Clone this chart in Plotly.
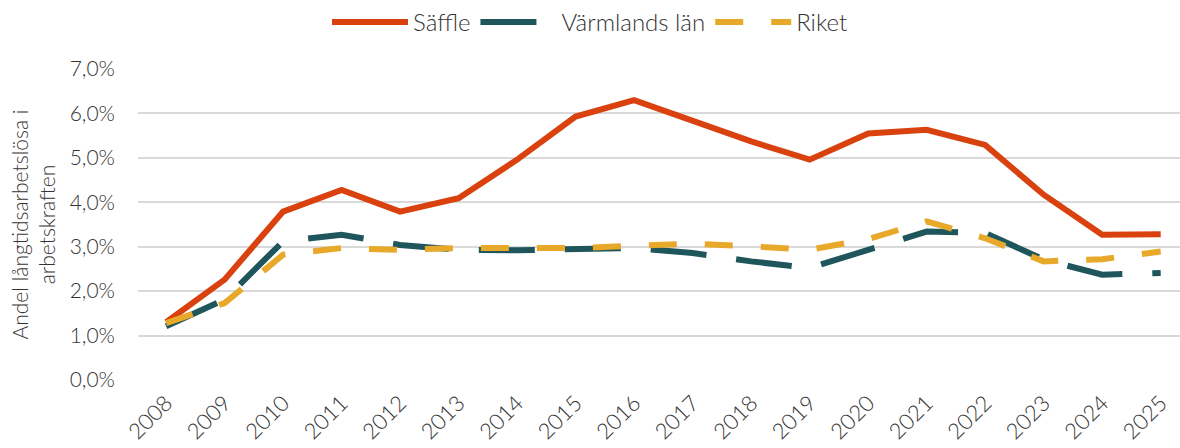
import plotly.graph_objects as go

years = [str(y) for y in range(2008, 2026)]

saffle = [1.30, 2.26, 3.79, 4.28, 3.79, 4.09, 4.96, 5.93, 6.30, 5.82,
          5.37, 4.96, 5.55, 5.63, 5.29, 4.17, 3.27, 3.28]
varmland = [1.21, 1.81, 3.12, 3.27, 3.04, 2.93, 2.92, 2.93, 2.97, 2.86,
            2.67, 2.52, 2.93, 3.34, 3.31, 2.71, 2.37, 2.41]
riket = [1.28, 1.73, 2.82, 2.97, 2.93, 2.97, 2.97, 2.97, 3.02, 3.07,
         3.01, 2.93, 3.17, 3.57, 3.19, 2.67, 2.72, 2.89]

y_ticks = [0, 1, 2, 3, 4, 5, 6, 7]
y_tick_text = ["0,0%", "1,0%", "2,0%", "3,0%", "4,0%", "5,0%", "6,0%", "7,0%"]

FONT = "Lato"
TEXT = "#333333"
base_font = dict(family=FONT, color=TEXT, size=21, weight=300)
legend_font = dict(family=FONT, color=TEXT, size=24, weight=300)
xtick_font = dict(family=FONT, color=TEXT, size=22, weight=300)

fig = go.Figure()
fig.add_trace(go.Scatter(x=years, y=saffle, name="Säffle", mode="lines",
                         line=dict(color="#D9420F", width=6)))
fig.add_trace(go.Scatter(x=years, y=varmland, name="Värmlands län", mode="lines",
                         line=dict(color="#1F565B", width=6, dash="56px,30px")))
fig.add_trace(go.Scatter(x=years, y=riket, name="Riket", mode="lines",
                         line=dict(color="#E8A82A", width=6, dash="28px,28px")))

fig.update_layout(
    width=1180, height=448,
    margin=dict(l=138, r=0, t=69, b=68),
    paper_bgcolor="white", plot_bgcolor="white",
    font=base_font,
    showlegend=True,
    legend=dict(orientation="h", x=0.5, xanchor="center", xref="container",
                y=1.0, yanchor="top", yref="container",
                font=legend_font, itemwidth=76, traceorder="normal"),
    xaxis=dict(type="category", range=[-0.48, 17.33], tickangle=-45,
               showgrid=False, zeroline=False, showline=False, ticks="",
               tickfont=xtick_font, ticklabelstandoff=5, automargin=False),
    yaxis=dict(range=[0, 7], tickvals=y_ticks, ticktext=y_tick_text,
               showgrid=True, gridcolor="#D9D9D9", gridwidth=2, zeroline=False,
               showline=False, ticks="", tickfont=base_font,
               ticklabelstandoff=22, automargin=False,
               title=dict(text="Andel långtidsarbetslösa i<br>arbetskraften",
                          font=base_font, standoff=8)),
)

fig.write_html("out.html")
